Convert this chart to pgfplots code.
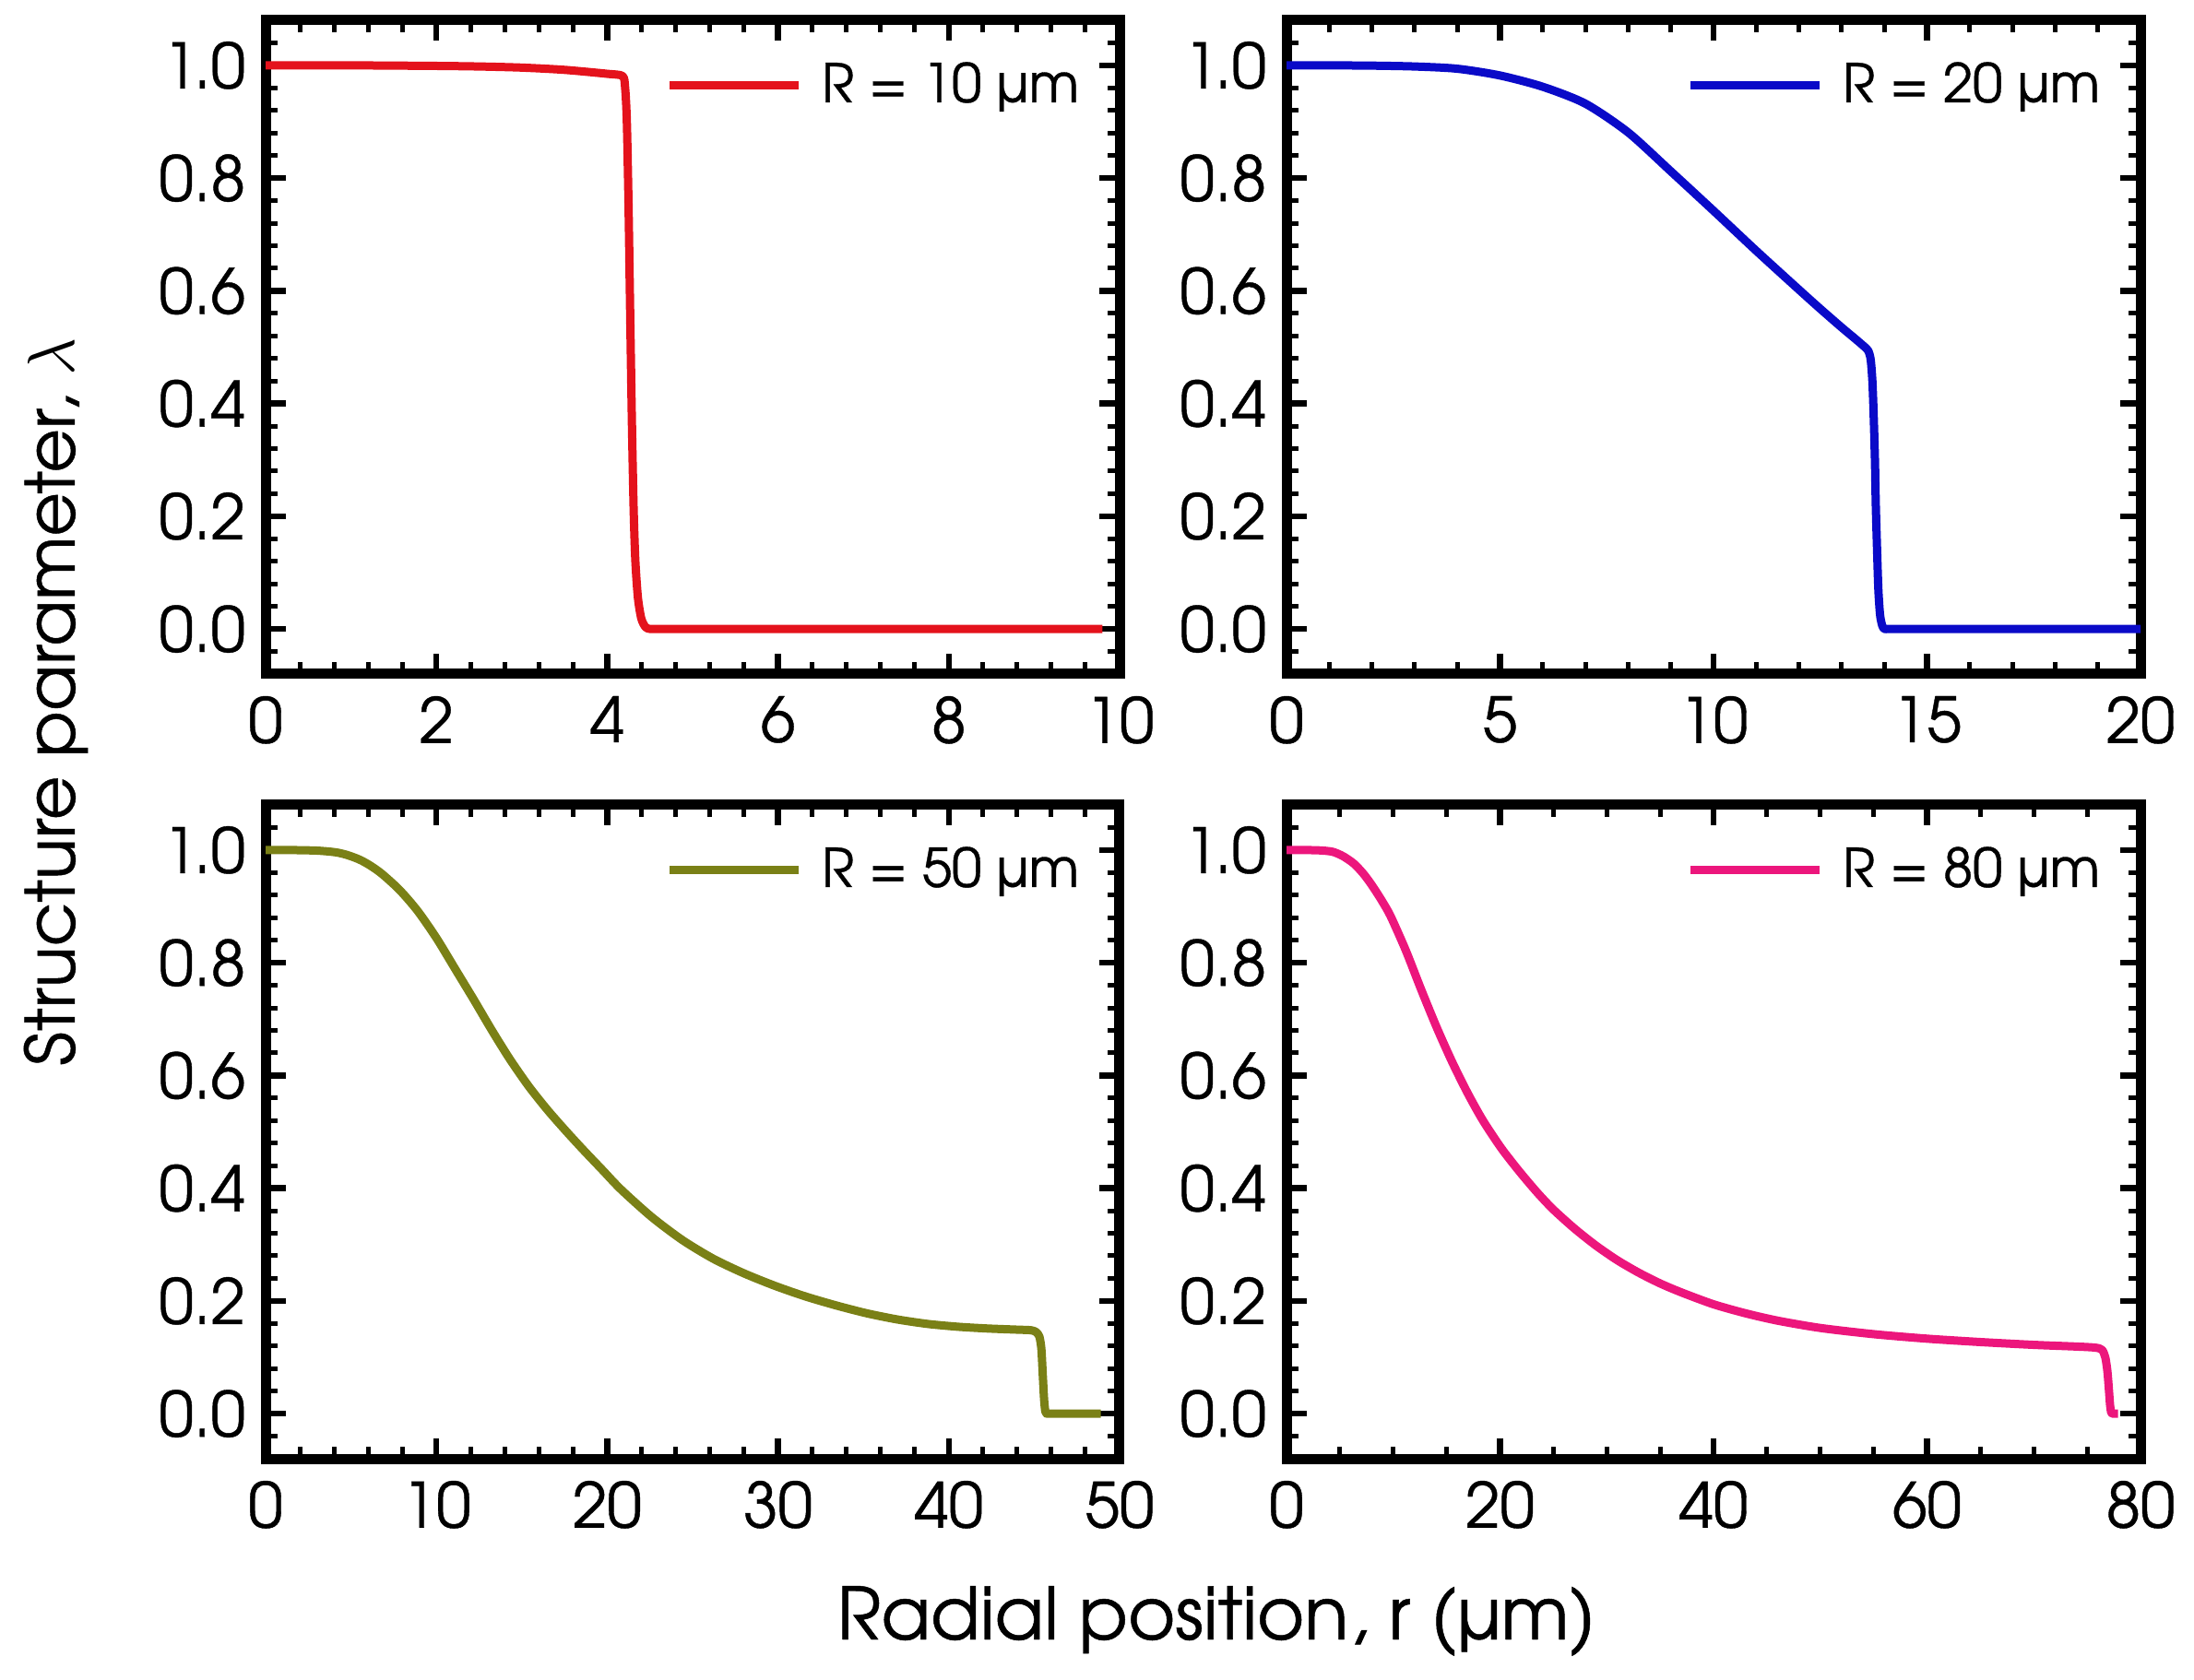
\documentclass[border=0pt]{standalone}
\usepackage{fontspec}
\setmainfont{TeX Gyre Adventor}[FakeBold=0.6]
\usepackage{pgfplots}
\pgfplotsset{compat=1.18}
\definecolor{cred}{RGB}{228,18,28}
\definecolor{cblue}{RGB}{10,10,200}
\definecolor{colive}{RGB}{122,128,22}
\definecolor{cpink}{RGB}{236,22,124}
\pgfplotsset{
 panel/.style={
   scale only axis, width=185.2pt, height=141.8pt,
   ymin=-0.08, ymax=1.08,
   ytick={0,0.2,0.4,0.6,0.8,1.0},
   minor ytick={-0.04,0.04,0.08,0.12,0.16,0.24,0.28,0.32,0.36,0.44,0.48,0.52,0.56,0.64,0.68,0.72,0.76,0.84,0.88,0.92,0.96,1.04},
   axis line style={line width=2.2pt},
   tick align=inside,
   major tick length=4.4pt, minor tick length=2.6pt,
   every major tick/.append style={line width=1.3pt, black},
   every minor tick/.append style={line width=1.0pt, black},
   tick label style={font=\fontsize{13.5}{16}\selectfont},
   /pgf/number format/assume math mode=true,
   yticklabel style={/pgf/number format/fixed, /pgf/number format/fixed zerofill, /pgf/number format/precision=1, anchor=east, inner sep=0pt, xshift=-4.2pt},
   xticklabel style={anchor=north, inner sep=0pt, yshift=-4.6pt},
   legend style={draw=none, fill=none, at={(rel axis cs:1,0.9)}, anchor=east, xshift=-8.8pt, font=\fontsize{11.6}{14}\selectfont, inner sep=0pt, outer sep=0pt, nodes={inner sep=0pt}},
   legend image code/.code={\draw[#1, line width=1.8pt] (0pt,0pt) -- (28pt,0pt); \path (32pt,0pt);},
   every axis plot/.append style={line width=1.8pt, line join=round, smooth, tension=0.45},
 }
}
\begin{document}
\begin{tikzpicture}
\path[use as bounding box] (0,0) rectangle (475.8pt,364.2pt);
% top left
\begin{axis}[panel, at={(57.6pt,218pt)}, anchor=south west,
  xmin=0, xmax=10, xtick={0,2,4,6,8,10}, minor x tick num=4]
\addplot[cred] coordinates {(0,1) (1,1) (2,0.999) (2.5,0.998) (3,0.996) (3.5,0.992) (4,0.985) (4.18,0.981) (4.21,0.96) (4.23,0.90) (4.25,0.75) (4.27,0.55) (4.29,0.36) (4.31,0.21) (4.33,0.12) (4.36,0.055) (4.40,0.018) (4.45,0.003) (4.5,0) (4.57,0) (4.67,0) (4.82,0) (5.05,0) (5.4,0) (5.95,0) (6.8,0) (8.1,0) (9.8,0)};
\addlegendentry{R = 10 µm}
\end{axis}
% top right
\begin{axis}[panel, at={(279pt,218pt)}, anchor=south west,
  xmin=0, xmax=20, xtick={0,5,10,15,20}, minor x tick num=4]
\addplot[cblue] coordinates {(0,1) (1,1) (2,0.9995) (3,0.998) (4,0.994) (5,0.982) (6,0.962) (7,0.932) (8,0.881) (9,0.812) (10,0.742) (11,0.671) (12,0.602) (12.5,0.568) (13,0.535) (13.3,0.516) (13.5,0.503) (13.62,0.494) (13.68,0.478) (13.72,0.44) (13.75,0.38) (13.78,0.3) (13.8,0.22) (13.83,0.14) (13.86,0.07) (13.9,0.025) (13.95,0.006) (14.0,0) (14.08,0) (14.2,0) (14.4,0) (14.7,0) (15.2,0) (16,0) (17.2,0) (18.6,0) (20,0)};
\addlegendentry{R = 20 µm}
\end{axis}
% bottom left
\begin{axis}[panel, at={(57.6pt,47.8pt)}, anchor=south west,
  xmin=0, xmax=50, xtick={0,10,20,30,40,50}, minor x tick num=4]
\addplot[colive] coordinates {(0,1) (1.4,1) (3,0.999) (4.1,0.996) (4.8,0.991) (5.5,0.983) (6.1,0.973) (6.8,0.958) (7.85,0.929) (8.9,0.892) (10,0.844) (11.1,0.789) (12.2,0.734) (13.25,0.680) (14.3,0.629) (15.4,0.581) (16.5,0.539) (17.6,0.501) (18.6,0.468) (19.7,0.433) (20.8,0.398) (22.6,0.349) (24.4,0.308) (26.2,0.275) (28,0.249) (29.8,0.227) (31.6,0.208) (33.4,0.192) (35.2,0.178) (37,0.167) (38.8,0.159) (40.6,0.154) (42.3,0.151) (44,0.149) (44.8,0.148) (45.1,0.145) (45.3,0.137) (45.42,0.115) (45.5,0.07) (45.58,0.025) (45.65,0.004) (45.72,0) (45.8,0) (45.95,0) (46.2,0) (46.6,0) (47.2,0) (48,0) (48.9,0)};
\addlegendentry{R = 50 µm}
\end{axis}
% bottom right
\begin{axis}[panel, at={(279pt,47.8pt)}, anchor=south west,
  xmin=0, xmax=80, xtick={0,20,40,60,80}, minor x tick num=3]
\addplot[cpink] coordinates {(0,1) (1.4,1) (3,0.9995) (4.3,0.997) (5.3,0.989) (6.3,0.976) (7.2,0.958) (8,0.9375) (8.9,0.911) (9.74,0.883) (11.17,0.822) (12.6,0.753) (14.05,0.686) (15.49,0.625) (16.93,0.570) (18.37,0.521) (20.1,0.4715) (21.8,0.430) (23.5,0.392) (25,0.362) (27,0.328) (29,0.298) (31,0.272) (33,0.25) (35,0.231) (37,0.215) (40,0.194) (43,0.178) (46,0.165) (50,0.152) (55,0.141) (60,0.133) (65,0.127) (70,0.122) (74,0.119) (75.8,0.117) (76.4,0.113) (76.7,0.1) (76.9,0.075) (77.05,0.04) (77.15,0.015) (77.25,0.002) (77.35,0) (77.45,0) (77.6,0) (77.9,0)};
\addlegendentry{R = 80 µm}
\end{axis}
\node[rotate=90, anchor=base, font=\fontsize{14.7}{18}\selectfont] at (16.2pt,212pt) {Structure parameter, $\lambda$};
\node[anchor=base, font=\fontsize{15.7}{18}\selectfont] at (263.8pt,8.6pt) {Radial position, r (µm)};
\end{tikzpicture}
\end{document}
